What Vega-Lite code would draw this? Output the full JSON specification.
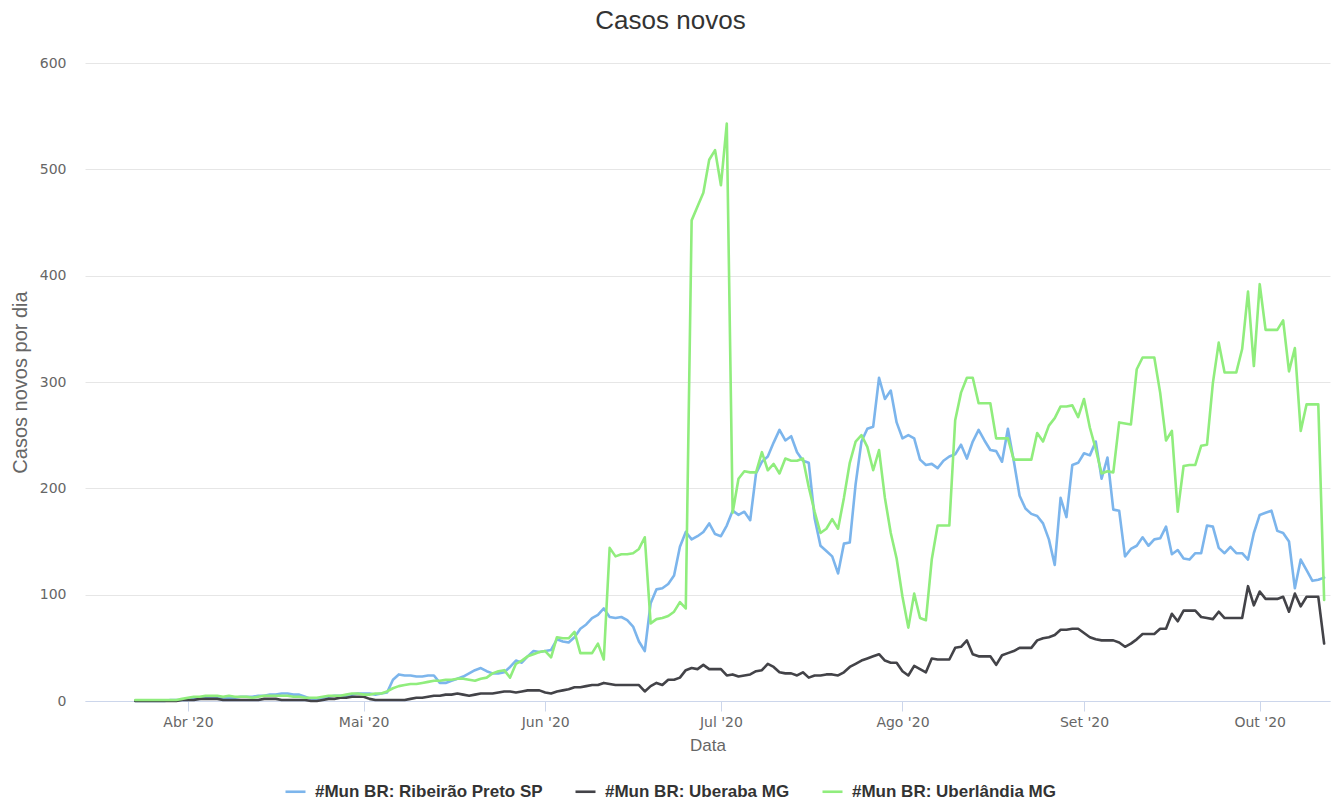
{
"$schema": "https://vega.github.io/schema/vega-lite/v6.json",
"width": 1245, "height": 638,
"autosize": {"type": "none"},
"padding": {"left": 85, "top": 63, "right": 9, "bottom": 100},
"background": "white",
"title": {"text": "Casos novos", "fontSize": 26, "font": "Liberation Sans", "fontWeight": "normal", "color": "#333333", "anchor": "middle", "offset": 22, "dx": -37},
"data": {"values": [
{"d":"2020-03-23","rp":0,"uba":0,"udi":1},
{"d":"2020-03-24","rp":0,"uba":0,"udi":1},
{"d":"2020-03-25","rp":0,"uba":0,"udi":1},
{"d":"2020-03-26","rp":0,"uba":0,"udi":1},
{"d":"2020-03-27","rp":0,"uba":0,"udi":1},
{"d":"2020-03-28","rp":0,"uba":0,"udi":1},
{"d":"2020-03-29","rp":1,"uba":0,"udi":1},
{"d":"2020-03-30","rp":1,"uba":0,"udi":1},
{"d":"2020-03-31","rp":1,"uba":1,"udi":2},
{"d":"2020-04-01","rp":1,"uba":1,"udi":3},
{"d":"2020-04-02","rp":2,"uba":1,"udi":4},
{"d":"2020-04-03","rp":2,"uba":2,"udi":4},
{"d":"2020-04-04","rp":3,"uba":2,"udi":5},
{"d":"2020-04-05","rp":3,"uba":2,"udi":5},
{"d":"2020-04-06","rp":3,"uba":2,"udi":5},
{"d":"2020-04-07","rp":3,"uba":1,"udi":4},
{"d":"2020-04-08","rp":3,"uba":1,"udi":5},
{"d":"2020-04-09","rp":3,"uba":1,"udi":4},
{"d":"2020-04-10","rp":4,"uba":1,"udi":4},
{"d":"2020-04-11","rp":4,"uba":1,"udi":4},
{"d":"2020-04-12","rp":4,"uba":1,"udi":3},
{"d":"2020-04-13","rp":5,"uba":1,"udi":4},
{"d":"2020-04-14","rp":5,"uba":2,"udi":5},
{"d":"2020-04-15","rp":6,"uba":2,"udi":5},
{"d":"2020-04-16","rp":6,"uba":2,"udi":5},
{"d":"2020-04-17","rp":7,"uba":1,"udi":5},
{"d":"2020-04-18","rp":7,"uba":1,"udi":5},
{"d":"2020-04-19","rp":6,"uba":1,"udi":4},
{"d":"2020-04-20","rp":6,"uba":1,"udi":4},
{"d":"2020-04-21","rp":4,"uba":1,"udi":3},
{"d":"2020-04-22","rp":2,"uba":0,"udi":3},
{"d":"2020-04-23","rp":2,"uba":0,"udi":3},
{"d":"2020-04-24","rp":3,"uba":1,"udi":4},
{"d":"2020-04-25","rp":4,"uba":2,"udi":5},
{"d":"2020-04-26","rp":5,"uba":2,"udi":5},
{"d":"2020-04-27","rp":5,"uba":3,"udi":5},
{"d":"2020-04-28","rp":5,"uba":3,"udi":6},
{"d":"2020-04-29","rp":6,"uba":4,"udi":7},
{"d":"2020-04-30","rp":7,"uba":4,"udi":7},
{"d":"2020-05-01","rp":7,"uba":4,"udi":6},
{"d":"2020-05-02","rp":7,"uba":2,"udi":6},
{"d":"2020-05-03","rp":6,"uba":1,"udi":7},
{"d":"2020-05-04","rp":7,"uba":1,"udi":7},
{"d":"2020-05-05","rp":8,"uba":1,"udi":9},
{"d":"2020-05-06","rp":20,"uba":1,"udi":12},
{"d":"2020-05-07","rp":25,"uba":1,"udi":14},
{"d":"2020-05-08","rp":24,"uba":1,"udi":15},
{"d":"2020-05-09","rp":24,"uba":2,"udi":16},
{"d":"2020-05-10","rp":23,"uba":3,"udi":16},
{"d":"2020-05-11","rp":23,"uba":3,"udi":17},
{"d":"2020-05-12","rp":24,"uba":4,"udi":18},
{"d":"2020-05-13","rp":24,"uba":5,"udi":19},
{"d":"2020-05-14","rp":17,"uba":5,"udi":19},
{"d":"2020-05-15","rp":17,"uba":6,"udi":20},
{"d":"2020-05-16","rp":19,"uba":6,"udi":20},
{"d":"2020-05-17","rp":21,"uba":7,"udi":21},
{"d":"2020-05-18","rp":23,"uba":6,"udi":21},
{"d":"2020-05-19","rp":26,"uba":5,"udi":20},
{"d":"2020-05-20","rp":29,"uba":6,"udi":19},
{"d":"2020-05-21","rp":31,"uba":7,"udi":21},
{"d":"2020-05-22","rp":28,"uba":7,"udi":22},
{"d":"2020-05-23","rp":26,"uba":7,"udi":26},
{"d":"2020-05-24","rp":26,"uba":8,"udi":28},
{"d":"2020-05-25","rp":27,"uba":9,"udi":29},
{"d":"2020-05-26","rp":32,"uba":9,"udi":22},
{"d":"2020-05-27","rp":38,"uba":8,"udi":35},
{"d":"2020-05-28","rp":36,"uba":9,"udi":38},
{"d":"2020-05-29","rp":42,"uba":10,"udi":42},
{"d":"2020-05-30","rp":47,"uba":10,"udi":44},
{"d":"2020-05-31","rp":46,"uba":10,"udi":46},
{"d":"2020-06-01","rp":47,"uba":8,"udi":47},
{"d":"2020-06-02","rp":48,"uba":7,"udi":41},
{"d":"2020-06-03","rp":58,"uba":9,"udi":60},
{"d":"2020-06-04","rp":56,"uba":10,"udi":59},
{"d":"2020-06-05","rp":55,"uba":11,"udi":59},
{"d":"2020-06-06","rp":60,"uba":13,"udi":65},
{"d":"2020-06-07","rp":68,"uba":13,"udi":45},
{"d":"2020-06-08","rp":72,"uba":14,"udi":45},
{"d":"2020-06-09","rp":78,"uba":15,"udi":45},
{"d":"2020-06-10","rp":81,"uba":15,"udi":54},
{"d":"2020-06-11","rp":87,"uba":17,"udi":39},
{"d":"2020-06-12","rp":79,"uba":16,"udi":144},
{"d":"2020-06-13","rp":78,"uba":15,"udi":136},
{"d":"2020-06-14","rp":79,"uba":15,"udi":138},
{"d":"2020-06-15","rp":76,"uba":15,"udi":138},
{"d":"2020-06-16","rp":70,"uba":15,"udi":139},
{"d":"2020-06-17","rp":56,"uba":15,"udi":143},
{"d":"2020-06-18","rp":47,"uba":9,"udi":154},
{"d":"2020-06-19","rp":92,"uba":14,"udi":73},
{"d":"2020-06-20","rp":105,"uba":17,"udi":77},
{"d":"2020-06-21","rp":106,"uba":15,"udi":78},
{"d":"2020-06-22","rp":110,"uba":20,"udi":80},
{"d":"2020-06-23","rp":118,"uba":20,"udi":84},
{"d":"2020-06-24","rp":145,"uba":22,"udi":93},
{"d":"2020-06-25","rp":159,"uba":29,"udi":87},
{"d":"2020-06-26","rp":152,"uba":31,"udi":452},
{"d":"2020-06-27","rp":155,"uba":30,"udi":465},
{"d":"2020-06-28","rp":159,"uba":34,"udi":478},
{"d":"2020-06-29","rp":167,"uba":30,"udi":509},
{"d":"2020-06-30","rp":157,"uba":30,"udi":518},
{"d":"2020-07-01","rp":155,"uba":30,"udi":485},
{"d":"2020-07-02","rp":165,"uba":24,"udi":543},
{"d":"2020-07-03","rp":179,"uba":25,"udi":177},
{"d":"2020-07-04","rp":175,"uba":23,"udi":209},
{"d":"2020-07-05","rp":178,"uba":24,"udi":216},
{"d":"2020-07-06","rp":170,"uba":25,"udi":215},
{"d":"2020-07-07","rp":214,"uba":28,"udi":215},
{"d":"2020-07-08","rp":225,"uba":29,"udi":234},
{"d":"2020-07-09","rp":230,"uba":35,"udi":217},
{"d":"2020-07-10","rp":243,"uba":32,"udi":223},
{"d":"2020-07-11","rp":255,"uba":27,"udi":214},
{"d":"2020-07-12","rp":245,"uba":26,"udi":228},
{"d":"2020-07-13","rp":249,"uba":26,"udi":226},
{"d":"2020-07-14","rp":234,"uba":24,"udi":226},
{"d":"2020-07-15","rp":226,"uba":27,"udi":228},
{"d":"2020-07-16","rp":224,"uba":22,"udi":201},
{"d":"2020-07-17","rp":172,"uba":24,"udi":178},
{"d":"2020-07-18","rp":146,"uba":24,"udi":158},
{"d":"2020-07-19","rp":141,"uba":25,"udi":162},
{"d":"2020-07-20","rp":136,"uba":25,"udi":171},
{"d":"2020-07-21","rp":120,"uba":24,"udi":162},
{"d":"2020-07-22","rp":148,"uba":27,"udi":191},
{"d":"2020-07-23","rp":149,"uba":32,"udi":224},
{"d":"2020-07-24","rp":204,"uba":35,"udi":244},
{"d":"2020-07-25","rp":244,"uba":38,"udi":250},
{"d":"2020-07-26","rp":256,"uba":40,"udi":239},
{"d":"2020-07-27","rp":258,"uba":42,"udi":217},
{"d":"2020-07-28","rp":304,"uba":44,"udi":236},
{"d":"2020-07-29","rp":284,"uba":38,"udi":191},
{"d":"2020-07-30","rp":292,"uba":36,"udi":158},
{"d":"2020-07-31","rp":262,"uba":36,"udi":134},
{"d":"2020-08-01","rp":247,"uba":28,"udi":98},
{"d":"2020-08-02","rp":250,"uba":24,"udi":69},
{"d":"2020-08-03","rp":247,"uba":33,"udi":101},
{"d":"2020-08-04","rp":227,"uba":30,"udi":78},
{"d":"2020-08-05","rp":222,"uba":27,"udi":76},
{"d":"2020-08-06","rp":223,"uba":40,"udi":133},
{"d":"2020-08-07","rp":219,"uba":39,"udi":165},
{"d":"2020-08-08","rp":226,"uba":39,"udi":165},
{"d":"2020-08-09","rp":230,"uba":39,"udi":165},
{"d":"2020-08-10","rp":232,"uba":50,"udi":264},
{"d":"2020-08-11","rp":241,"uba":51,"udi":290},
{"d":"2020-08-12","rp":228,"uba":57,"udi":304},
{"d":"2020-08-13","rp":244,"uba":44,"udi":304},
{"d":"2020-08-14","rp":255,"uba":42,"udi":280},
{"d":"2020-08-15","rp":245,"uba":42,"udi":280},
{"d":"2020-08-16","rp":236,"uba":42,"udi":280},
{"d":"2020-08-17","rp":235,"uba":34,"udi":247},
{"d":"2020-08-18","rp":225,"uba":43,"udi":247},
{"d":"2020-08-19","rp":256,"uba":45,"udi":247},
{"d":"2020-08-20","rp":226,"uba":47,"udi":227},
{"d":"2020-08-21","rp":193,"uba":50,"udi":227},
{"d":"2020-08-22","rp":181,"uba":50,"udi":227},
{"d":"2020-08-23","rp":176,"uba":50,"udi":227},
{"d":"2020-08-24","rp":174,"uba":57,"udi":252},
{"d":"2020-08-25","rp":167,"uba":59,"udi":244},
{"d":"2020-08-26","rp":152,"uba":60,"udi":259},
{"d":"2020-08-27","rp":128,"uba":62,"udi":266},
{"d":"2020-08-28","rp":191,"uba":67,"udi":277},
{"d":"2020-08-29","rp":173,"uba":67,"udi":277},
{"d":"2020-08-30","rp":222,"uba":68,"udi":278},
{"d":"2020-08-31","rp":224,"uba":68,"udi":267},
{"d":"2020-09-01","rp":233,"uba":64,"udi":284},
{"d":"2020-09-02","rp":231,"uba":60,"udi":257},
{"d":"2020-09-03","rp":244,"uba":58,"udi":237},
{"d":"2020-09-04","rp":209,"uba":57,"udi":214},
{"d":"2020-09-05","rp":229,"uba":57,"udi":216},
{"d":"2020-09-06","rp":180,"uba":57,"udi":215},
{"d":"2020-09-07","rp":179,"uba":55,"udi":262},
{"d":"2020-09-08","rp":136,"uba":51,"udi":261},
{"d":"2020-09-09","rp":143,"uba":54,"udi":260},
{"d":"2020-09-10","rp":146,"uba":58,"udi":312},
{"d":"2020-09-11","rp":154,"uba":63,"udi":323},
{"d":"2020-09-12","rp":146,"uba":63,"udi":323},
{"d":"2020-09-13","rp":152,"uba":63,"udi":323},
{"d":"2020-09-14","rp":153,"uba":68,"udi":290},
{"d":"2020-09-15","rp":164,"uba":68,"udi":245},
{"d":"2020-09-16","rp":138,"uba":82,"udi":254},
{"d":"2020-09-17","rp":142,"uba":75,"udi":178},
{"d":"2020-09-18","rp":134,"uba":85,"udi":221},
{"d":"2020-09-19","rp":133,"uba":85,"udi":222},
{"d":"2020-09-20","rp":139,"uba":85,"udi":222},
{"d":"2020-09-21","rp":139,"uba":79,"udi":240},
{"d":"2020-09-22","rp":165,"uba":78,"udi":241},
{"d":"2020-09-23","rp":164,"uba":77,"udi":299},
{"d":"2020-09-24","rp":144,"uba":84,"udi":337},
{"d":"2020-09-25","rp":139,"uba":78,"udi":309},
{"d":"2020-09-26","rp":145,"uba":78,"udi":309},
{"d":"2020-09-27","rp":139,"uba":78,"udi":309},
{"d":"2020-09-28","rp":139,"uba":78,"udi":331},
{"d":"2020-09-29","rp":133,"uba":108,"udi":385},
{"d":"2020-09-30","rp":158,"uba":90,"udi":315},
{"d":"2020-10-01","rp":175,"uba":103,"udi":392},
{"d":"2020-10-02","rp":177,"uba":96,"udi":349},
{"d":"2020-10-03","rp":179,"uba":96,"udi":349},
{"d":"2020-10-04","rp":160,"uba":96,"udi":349},
{"d":"2020-10-05","rp":158,"uba":98,"udi":358},
{"d":"2020-10-06","rp":150,"uba":84,"udi":310},
{"d":"2020-10-07","rp":106,"uba":101,"udi":332},
{"d":"2020-10-08","rp":133,"uba":89,"udi":254},
{"d":"2020-10-09","rp":123,"uba":98,"udi":279},
{"d":"2020-10-10","rp":113,"uba":98,"udi":279},
{"d":"2020-10-11","rp":114,"uba":98,"udi":279},
{"d":"2020-10-12","rp":116,"uba":54,"udi":95}
]},
"transform": [{"fold": ["rp", "uba", "udi"], "as": ["serie", "casos"]}],
"mark": {"type": "line", "strokeWidth": 2.6, "interpolate": "linear", "strokeJoin": "round", "strokeCap": "round"},
"encoding": {
  "x": {"field": "d", "type": "temporal",
    "scale": {"type": "utc", "domain": [{"year": 2020, "month": 3, "date": 14, "hours": 10, "utc": true}, {"year": 2020, "month": 10, "date": 13, "utc": true}]},
    "axis": {
      "values": [{"year": 2020, "month": 4, "date": 1, "utc": true}, {"year": 2020, "month": 5, "date": 1, "utc": true}, {"year": 2020, "month": 6, "date": 1, "utc": true}, {"year": 2020, "month": 7, "date": 1, "utc": true}, {"year": 2020, "month": 8, "date": 1, "utc": true}, {"year": 2020, "month": 9, "date": 1, "utc": true}, {"year": 2020, "month": 10, "date": 1, "utc": true}],
      "labelExpr": "['Jan','Fev','Mar','Abr','Mai','Jun','Jul','Ago','Set','Out','Nov','Dez'][utcmonth(datum.value)] + \" '20\"",
      "title": "Data", "grid": false,
      "domainColor": "#ccd6eb", "tickColor": "#ccd6eb", "tickSize": 10, "domainWidth": 1, "tickWidth": 1,
      "labelColor": "#666666", "labelFont": "DejaVu Sans", "labelFontSize": 14, "labelPadding": 4,
      "titleColor": "#666666", "titleFont": "Liberation Sans", "titleFontSize": 17, "titleFontWeight": "normal", "titlePadding": 8
    }
  },
  "y": {"field": "casos", "type": "quantitative",
    "scale": {"domain": [0, 600], "nice": false, "zero": true},
    "axis": {
      "values": [0, 100, 200, 300, 400, 500, 600],
      "title": "Casos novos por dia", "domain": false, "ticks": false, "tickSize": 0,
      "gridColor": "#e6e6e6", "gridWidth": 1,
      "labelColor": "#666666", "labelFont": "DejaVu Sans", "labelFontSize": 14, "labelPadding": 19,
      "titleColor": "#666666", "titleFont": "Liberation Sans", "titleFontSize": 20, "titleFontWeight": "normal", "titlePadding": 9
    }
  },
  "color": {"field": "serie", "type": "nominal",
    "scale": {"domain": ["rp", "uba", "udi"], "range": ["#7cb5ec", "#434348", "#90ed7d"]},
    "legend": {
      "orient": "none", "legendX": 199, "legendY": 717, "direction": "horizontal", "columns": 3,
      "title": null, "padding": 0, "labelLimit": 0,
      "labelExpr": "datum.label == 'rp' ? '#Mun BR: Ribeirão Preto SP' : datum.label == 'uba' ? '#Mun BR: Uberaba MG' : '#Mun BR: Uberlândia MG'",
      "symbolType": "stroke", "symbolSize": 400, "symbolStrokeWidth": 2.6,
      "labelFont": "Liberation Sans", "labelFontSize": 17, "labelFontWeight": "bold", "labelColor": "#333333",
      "labelOffset": 8, "columnPadding": 27
    }
  }
},
"config": {"view": {"stroke": null}}
}
